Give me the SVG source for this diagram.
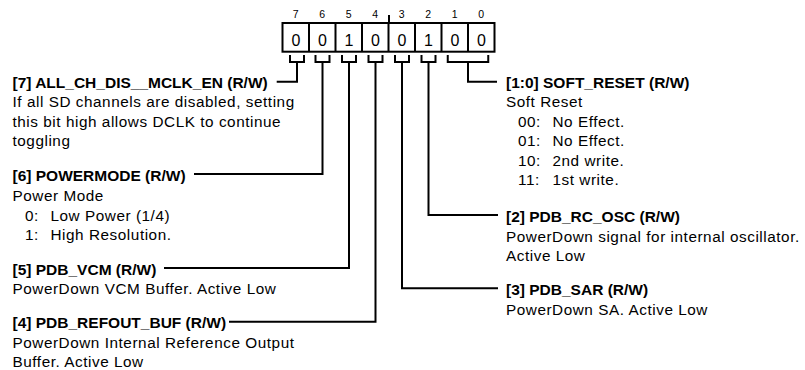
<svg xmlns="http://www.w3.org/2000/svg" width="805" height="370" viewBox="0 0 805 370">
<style>
  .b { font-family: "Liberation Sans", Arial, sans-serif; font-weight: bold; font-size: 15.5px; fill: #000; }
  .r { font-family: "Liberation Sans", Arial, sans-serif; font-size: 15.3px; letter-spacing: 0.55px; fill: #000; }
  .n { font-family: "Liberation Sans", Arial, sans-serif; font-size: 10.5px; fill: #000; text-anchor: middle; }
  .d { font-family: "Liberation Sans", Arial, sans-serif; font-size: 16px; fill: #000; text-anchor: middle; }
  .ln { fill: none; stroke: #000; stroke-width: 2; }
</style>
<rect width="805" height="370" fill="#fff"/>
<g id="register">
  <rect class="ln" x="282.5" y="23" width="212" height="28.7"/>
  <path class="ln" d="M309,23V51.7M335.5,23V51.7M362,23V51.7M388.5,23V51.7M415,23V51.7M441.5,23V51.7M468,23V51.7"/>
  <path class="ln" d="M389,15V23"/>
  <text class="n" x="295.75" y="17.5">7</text>
  <text class="n" x="322.25" y="17.5">6</text>
  <text class="n" x="348.75" y="17.5">5</text>
  <text class="n" x="375.25" y="17.5">4</text>
  <text class="n" x="401.75" y="17.5">3</text>
  <text class="n" x="428.25" y="17.5">2</text>
  <text class="n" x="454.75" y="17.5">1</text>
  <text class="n" x="481.25" y="17.5">0</text>
  <text class="d" x="296" y="46">0</text>
  <text class="d" x="322.5" y="46">0</text>
  <text class="d" x="349" y="46">1</text>
  <text class="d" x="375.5" y="46">0</text>
  <text class="d" x="402" y="46">0</text>
  <text class="d" x="428.5" y="46">1</text>
  <text class="d" x="455" y="46">0</text>
  <text class="d" x="481.5" y="46">0</text>
</g>
<g id="connectors">
  <path class="ln" d="M290,55V62H304V55M297,62V81.7H276.7"/>
  <path class="ln" d="M315.5,55V62H329.5V55M322.5,62V174H194"/>
  <path class="ln" d="M342,55V62H356V55M349,62V268H164"/>
  <path class="ln" d="M368.5,55V62H382.5V55M375.5,62V321.7H229"/>
  <path class="ln" d="M395,55V62H409V55M402,62V288.3H498"/>
  <path class="ln" d="M421.5,55V62H435.5V55M428.5,62V215H498"/>
  <path class="ln" d="M447.75,55V62H488.25V55M468,62V81.7H497"/>
</g>
<g id="field7">
  <text class="b" x="12.5" y="87.5">[7] ALL_CH_DIS__MCLK_EN (R/W)</text>
  <text class="r" x="12.5" y="107">If all SD channels are disabled, setting</text>
  <text class="r" x="12.5" y="126.5">this bit high allows DCLK to continue</text>
  <text class="r" x="12.5" y="146">toggling</text>
</g>
<g id="field6">
  <text class="b" x="12.5" y="180.5">[6] POWERMODE (R/W)</text>
  <text class="r" x="12.5" y="200.5">Power Mode</text>
  <text class="r" x="25" y="220.5">0:</text>
  <text class="r" x="50.5" y="220.5">Low Power (1/4)</text>
  <text class="r" x="25" y="240">1:</text>
  <text class="r" x="50.5" y="240">High Resolution.</text>
</g>
<g id="field5">
  <text class="b" x="12.5" y="274.5">[5] PDB_VCM (R/W)</text>
  <text class="r" x="12.5" y="294">PowerDown VCM Buffer. Active Low</text>
</g>
<g id="field4">
  <text class="b" x="12.5" y="328">[4] PDB_REFOUT_BUF (R/W)</text>
  <text class="r" x="12.5" y="347.5">PowerDown Internal Reference Output</text>
  <text class="r" x="12.5" y="367">Buffer. Active Low</text>
</g>
<g id="field1_0">
  <text class="b" x="506" y="87.5">[1:0] SOFT_RESET (R/W)</text>
  <text class="r" x="506" y="107">Soft Reset</text>
  <text class="r" x="518" y="126.5">00:</text>
  <text class="r" x="552.5" y="126.5">No Effect.</text>
  <text class="r" x="518" y="146">01:</text>
  <text class="r" x="552.5" y="146">No Effect.</text>
  <text class="r" x="518" y="165.5">10:</text>
  <text class="r" x="552.5" y="165.5">2nd write.</text>
  <text class="r" x="518" y="185">11:</text>
  <text class="r" x="552.5" y="185">1st write.</text>
</g>
<g id="field2">
  <text class="b" x="506" y="221.5">[2] PDB_RC_OSC (R/W)</text>
  <text class="r" x="506" y="241.5">PowerDown signal for internal oscillator.</text>
  <text class="r" x="506" y="261">Active Low</text>
</g>
<g id="field3">
  <text class="b" x="506" y="295">[3] PDB_SAR (R/W)</text>
  <text class="r" x="506" y="314.5">PowerDown SA. Active Low</text>
</g>
</svg>
